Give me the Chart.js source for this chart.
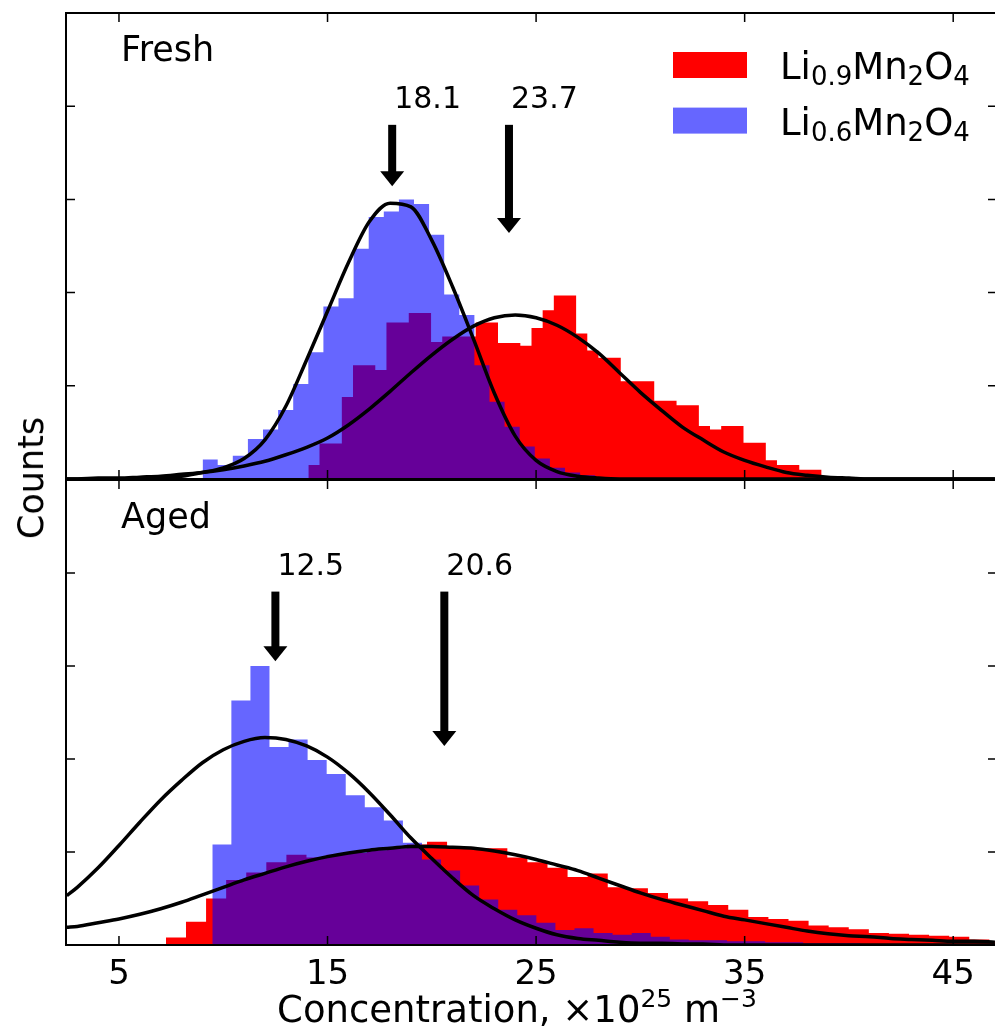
<!DOCTYPE html>
<html>
<head>
<meta charset="utf-8">
<script src="https://cdn.jsdelivr.net/npm/chart.js@4.4.0/dist/chart.umd.min.js"></script>
<style>
html, body { margin: 0; padding: 0; background: #fff; overflow: hidden; }
#wrap { position: relative; width: 995px; height: 1028px; overflow: hidden; }
canvas { position: absolute; left: 0; }
#top { top: 0; }
#bottom { top: 470px; }
#ylabel {
  position: absolute; left: 31px; top: 478px;
  transform: translate(-50%, -50%) rotate(-90deg);
  font: 35px "DejaVu Sans"; white-space: nowrap; color: #000;
}
</style>
</head>
<body>
<div id="wrap">
  <canvas id="top" width="1000" height="480"></canvas>
  <canvas id="bottom" width="1000" height="558"></canvas>
  <div id="ylabel">Counts</div>
</div>
<script>
// axis ticks (x in 10^25 m^-3, y counts are unlabelled)
const xTicks = [5, 15, 25, 35, 45];
const yTicks = [1, 2, 3, 4];
const panelNames = ["Fresh", "Aged"];
const seriesNames = [
  [["Li", 0], ["0.9", 1], ["Mn", 0], ["2", 1], ["O", 0], ["4", 1]],
  [["Li", 0], ["0.6", 1], ["Mn", 0], ["2", 1], ["O", 0], ["4", 1]],
];
const seriesColors = ["#ff0000", "rgba(0,0,255,0.6)"];

// peak positions marked with arrows, and where each arrow tip ends
const freshPeaks = [18.1, 23.7];
const agedPeaks = [12.5, 20.6];
const freshArrowTips = [3.14, 2.64];
const agedArrowTips = [3.05, 2.14];

// histograms: first bin edge, bin width, counts per bin
const freshRedStart = 14.08, freshRedWidth = 0.535;
const freshRedCounts = [0.15, 0.38, 0.38, 0.88, 1.22, 1.22, 1.17, 1.68, 1.68, 1.78, 1.78, 1.47,
  1.53, 1.53, 1.53, 1.68, 1.68, 1.46, 1.46, 1.43, 1.62, 1.81, 1.97, 1.97, 1.56, 1.38, 1.30, 1.30,
  1.05, 1.05, 1.05, 0.84, 0.84, 0.79, 0.79, 0.57, 0.53, 0.57, 0.57, 0.39, 0.39, 0.20, 0.15, 0.15,
  0.10, 0.10];
const freshBlueStart = 9.01, freshBlueWidth = 0.724;
const freshBlueCounts = [0.21, 0.15, 0.25, 0.43, 0.53, 0.74, 1.02, 1.36, 1.85, 1.94, 2.47, 2.81,
  2.87, 3.00, 2.95, 2.62, 1.98, 1.76, 1.22, 0.83, 0.56, 0.35, 0.22, 0.12, 0.07, 0.04, 0.02];
const agedRedStart = 7.25, agedRedWidth = 0.963;
const agedRedCounts = [0.08, 0.25, 0.50, 0.70, 0.78, 0.89, 0.97, 0.94, 0.97, 0.99, 1.02, 1.04,
  1.08, 1.11, 1.05, 1.04, 1.04, 0.94, 0.89, 0.83, 0.73, 0.77, 0.62, 0.61, 0.56, 0.50, 0.47, 0.43,
  0.38, 0.30, 0.28, 0.26, 0.21, 0.19, 0.17, 0.13, 0.12, 0.11, 0.10, 0.09, 0.06, 0.04];
const agedBlueStart = 9.475, agedBlueWidth = 0.914;
const agedBlueCounts = [1.08, 2.63, 3.00, 2.13, 2.21, 1.99, 1.84, 1.61, 1.48, 1.34, 1.10, 0.92,
  0.80, 0.64, 0.49, 0.38, 0.32, 0.24, 0.16, 0.18, 0.13, 0.11, 0.13, 0.09, 0.06, 0.05, 0.05, 0.04,
  0.04, 0.03, 0.03, 0.02, 0.02, 0.02, 0.01, 0.01, 0.01, 0.01, 0.01];

// gaussian fits
const fitX = [2.5, 3, 4, 5, 6, 7, 8, 9, 10, 11, 12, 13, 14, 15, 16, 17, 18, 19, 20, 21, 22, 23, 24,
  25, 26, 27, 28, 29, 30, 31, 32, 33, 34, 35, 36, 37, 38, 39, 40, 41, 42, 43, 44, 45, 46, 47];
const freshBlueFit = [0, 0, 0, 0, 0, 0.01, 0.03, 0.07, 0.12, 0.22, 0.42, 0.78, 1.28, 1.80, 2.32,
  2.76, 2.96, 2.92, 2.56, 2.06, 1.50, 0.92, 0.46, 0.20, 0.08, 0.03, 0.01, 0, 0, 0, 0, 0, 0, 0, 0,
  0, 0, 0, 0, 0, 0, 0, 0, 0, 0, 0];
const freshRedFit = [0, 0, 0.01, 0.01, 0.02, 0.03, 0.05, 0.07, 0.10, 0.14, 0.19, 0.26, 0.34, 0.44,
  0.58, 0.75, 0.94, 1.14, 1.33, 1.50, 1.64, 1.73, 1.76, 1.73, 1.65, 1.52, 1.35, 1.14, 0.93, 0.74,
  0.56, 0.42, 0.29, 0.20, 0.13, 0.07, 0.04, 0.02, 0.01, 0, 0, 0, 0, 0, 0, 0];
const agedBlueFit = [0.53, 0.62, 0.83, 1.07, 1.32, 1.56, 1.77, 1.96, 2.10, 2.19, 2.23, 2.21, 2.14,
  2.02, 1.85, 1.64, 1.40, 1.15, 0.93, 0.72, 0.53, 0.39, 0.27, 0.18, 0.11, 0.07, 0.05, 0.03, 0.02,
  0.02, 0.01, 0.01, 0, 0, 0, 0, 0, 0, 0, 0, 0, 0, 0, 0, 0, 0];
const agedRedFit = [0.19, 0.20, 0.24, 0.28, 0.33, 0.39, 0.46, 0.54, 0.62, 0.70, 0.77, 0.84, 0.90,
  0.95, 0.99, 1.02, 1.04, 1.06, 1.06, 1.05, 1.04, 1.01, 0.97, 0.92, 0.86, 0.80, 0.72, 0.64, 0.56,
  0.49, 0.43, 0.37, 0.31, 0.27, 0.23, 0.19, 0.15, 0.12, 0.10, 0.09, 0.07, 0.06, 0.05, 0.04, 0.04,
  0.03];

const FONT = '"DejaVu Sans"';

const histPoints = (start, width, counts) => {
  const pts = counts.map((c, i) => ({ x: start + i * width, y: c }));
  pts.push({ x: start + counts.length * width, y: counts[counts.length - 1] });
  return pts;
};
const curvePoints = (vals) => fitX.map((x, i) => ({ x: x, y: vals[i] }));

const histSet = (pts, color) => ({
  data: pts, stepped: true, fill: "origin", backgroundColor: color,
  borderColor: "rgba(0,0,0,0)", borderWidth: 0, pointRadius: 0, order: color === seriesColors[0] ? 3 : 2,
});
const fitSet = (pts) => ({
  data: pts, fill: false, borderColor: "#000", borderWidth: 3.5, pointRadius: 0,
  cubicInterpolationMode: "monotone", order: 1,
});

// draw mixed normal / sub / superscript runs, returns width
const drawRuns = (ctx, runs, x, y, size, small, shift, measureOnly) => {
  let cx = x;
  runs.forEach(([t, s]) => {
    ctx.font = (s ? small : size) + "px " + FONT;
    const dy = s ? shift : 0;
    if (!measureOnly) ctx.fillText(t, cx, y + dy);
    cx += ctx.measureText(t).width;
  });
  return cx - x;
};

const arrow = (ctx, x, y0, y1) => {
  ctx.fillRect(x - 4, y0, 8, y1 - y0 - 14);
  ctx.beginPath();
  ctx.moveTo(x - 12, y1 - 15);
  ctx.lineTo(x + 12, y1 - 15);
  ctx.lineTo(x, y1);
  ctx.closePath();
  ctx.fill();
};

const framePlugin = {
  id: "frame",
  afterDraw(chart) {
    const o = chart.options.plugins.frame;
    const { ctx, chartArea: a } = chart;
    const xs = chart.scales.x, ys = chart.scales.y;
    ctx.save();
    ctx.strokeStyle = "#000";
    ctx.fillStyle = "#000";
    ctx.lineWidth = 2;
    ctx.strokeRect(a.left, a.top, a.right - a.left, a.bottom - a.top);
    ctx.lineWidth = 1.5;
    ctx.beginPath();
    xTicks.forEach((v) => {
      const px = xs.getPixelForValue(v);
      ctx.moveTo(px, a.top); ctx.lineTo(px, a.top + 9);
      ctx.moveTo(px, a.bottom); ctx.lineTo(px, a.bottom - 9);
    });
    yTicks.forEach((v) => {
      const py = ys.getPixelForValue(v);
      ctx.moveTo(a.left, py); ctx.lineTo(a.left + 9, py);
      ctx.moveTo(a.right, py); ctx.lineTo(a.right - 9, py);
    });
    ctx.stroke();

    // panel name
    ctx.textAlign = "left";
    ctx.textBaseline = "alphabetic";
    ctx.font = "35px " + FONT;
    ctx.fillText(o.name, xs.getPixelForValue(5.1), ys.getPixelForValue(4.48));

    // peak arrows + values
    ctx.font = "30px " + FONT;
    o.peaks.forEach((p, i) => {
      const px = xs.getPixelForValue(p);
      ctx.fillText(p.toFixed(1), px + 2, ys.getPixelForValue(3.98));
      arrow(ctx, px, ys.getPixelForValue(3.8), ys.getPixelForValue(o.tips[i]));
    });

    if (o.legend) {
      seriesNames.forEach((runs, i) => {
        const top = 52 + i * 55.6;
        ctx.fillStyle = i === 0 ? seriesColors[0] : "#6666ff";
        ctx.fillRect(673, top, 74, 26);
        ctx.fillStyle = "#000";
        drawRuns(ctx, runs, 780, top + 27, 37, 26, 6);
      });
    }

    if (o.xAxis) {
      ctx.font = "34px " + FONT;
      ctx.textAlign = "center";
      xTicks.forEach((v) => ctx.fillText(String(v), xs.getPixelForValue(v), a.bottom + 39));
      ctx.textAlign = "left";
      const runs = [["Concentration, \u00d710", 0], ["25", 1], [" m", 0], ["\u22123", 1]];
      const w = drawRuns(ctx, runs, 0, 0, 37, 25, -15, true);
      drawRuns(ctx, runs, 517 - w / 2, a.bottom + 77, 37, 25, -15);
    }
    ctx.restore();
  },
};

const makePanel = (id, sets, frameOpts, padding) => new Chart(document.getElementById(id), {
  type: "line",
  data: { datasets: sets },
  options: {
    responsive: false,
    animation: false,
    devicePixelRatio: 1,
    layout: { padding: padding },
    scales: {
      x: { type: "linear", min: 2.46, max: 47.1, display: false },
      y: { min: 0, max: 5, display: false },
    },
    plugins: { legend: { display: false }, tooltip: { enabled: false }, frame: frameOpts },
  },
  plugins: [framePlugin],
});

makePanel("top", [
  histSet(histPoints(freshRedStart, freshRedWidth, freshRedCounts), seriesColors[0]),
  histSet(histPoints(freshBlueStart, freshBlueWidth, freshBlueCounts), seriesColors[1]),
  fitSet(curvePoints(freshBlueFit)),
  fitSet(curvePoints(freshRedFit)),
], { name: panelNames[0], peaks: freshPeaks, tips: freshArrowTips, legend: true },
{ left: 66, right: 3, top: 13, bottom: 1 });

makePanel("bottom", [
  histSet(histPoints(agedRedStart, agedRedWidth, agedRedCounts), seriesColors[0]),
  histSet(histPoints(agedBlueStart, agedBlueWidth, agedBlueCounts), seriesColors[1]),
  fitSet(curvePoints(agedBlueFit)),
  fitSet(curvePoints(agedRedFit)),
], { name: panelNames[1], peaks: agedPeaks, tips: agedArrowTips, xAxis: true },
{ left: 66, right: 3, top: 10, bottom: 83 });
</script>
</body>
</html>
